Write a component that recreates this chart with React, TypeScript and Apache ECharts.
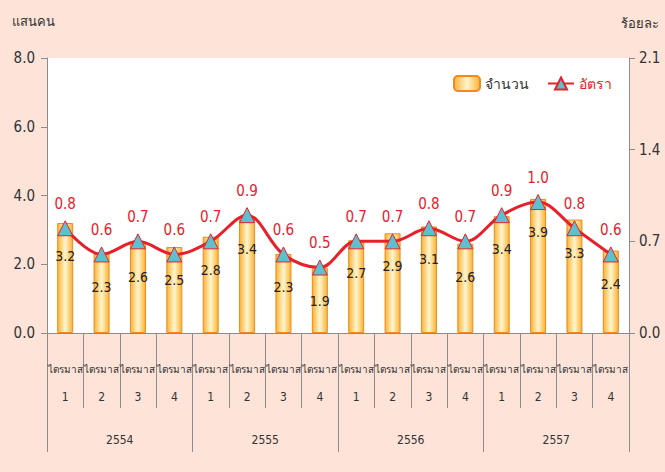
import React, { useEffect, useRef } from "react";
import * as echarts from "echarts";

const quarters = ["1", "2", "3", "4", "1", "2", "3", "4", "1", "2", "3", "4", "1", "2", "3", "4"];
const years = ["2554", "2555", "2556", "2557"];
const amount = [3.2, 2.3, 2.6, 2.5, 2.8, 3.4, 2.3, 1.9, 2.7, 2.9, 3.1, 2.6, 3.4, 3.9, 3.3, 2.4];
const rate = [0.8, 0.6, 0.7, 0.6, 0.7, 0.9, 0.6, 0.5, 0.7, 0.7, 0.8, 0.7, 0.9, 1.0, 0.8, 0.6];
const leftTicks = { min: 0, max: 8, interval: 2 };
const rightTicks = { min: 0, max: 2.1, interval: 0.7 };

const FONT = "'Liberation Sans Narrow', 'DejaVu Sans Condensed', 'Liberation Sans', sans-serif";
const RED = "#E8202A";
const AXIS = "#8c8c8c";
const TXT = "#333333";

export default function App() {
  const ref = useRef<HTMLDivElement>(null);
  useEffect(() => {
    if (!ref.current) return;
    const chart = echarts.init(ref.current, null, { renderer: "svg" });
    const barColor = new echarts.graphic.LinearGradient(0, 0, 1, 0, [
      { offset: 0, color: "#F9B233" },
      { offset: 0.5, color: "#FFF6CF" },
      { offset: 1, color: "#F9B233" },
    ]);
    chart.setOption({
      animation: false,
      backgroundColor: "#FDE3D8",
      textStyle: { fontFamily: FONT },
      grid: {
        left: 47,
        right: 36,
        top: 58,
        bottom: 139,
        show: true,
        backgroundColor: "#ffffff",
        borderWidth: 0,
      },
      legend: {
        left: 448,
        top: 70,
        itemWidth: 26,
        itemHeight: 15,
        itemGap: 18,
        textStyle: { fontSize: 14, fontFamily: FONT, color: TXT },
        data: [
          { name: "จำนวน", textStyle: { color: TXT } },
          { name: "อัตรา", textStyle: { color: RED } },
        ],
      },
      graphic: [
        { type: "text", left: 12, top: 15, style: { text: "แสนคน", fontSize: 13, fill: TXT, fontFamily: FONT } },
        { type: "text", right: 6, top: 17, style: { text: "ร้อยละ", fontSize: 13, fill: TXT, fontFamily: FONT } },
      ],
      xAxis: [
        {
          type: "category",
          data: quarters,
          gridIndex: 0,
          axisLine: { lineStyle: { color: AXIS, width: 1 } },
          axisTick: { show: true, length: 75, interval: 0, lineStyle: { color: AXIS } },
          axisLabel: {
            interval: 0,
            margin: 23,
            lineHeight: 27,
            fontSize: 10,
            color: TXT,
            formatter: (v: string) => "ไตรมาส\n{n|" + v + "}",
            rich: { n: { fontSize: 12, color: TXT } },
          },
        },
        {
          type: "category",
          data: years,
          gridIndex: 0,
          position: "bottom",
          axisLine: { show: false },
          axisTick: { show: true, length: 119, interval: 0, lineStyle: { color: AXIS } },
          axisLabel: { interval: 0, margin: 101, fontSize: 12, color: TXT },
        },
      ],
      yAxis: [
        {
          type: "value",
          ...leftTicks,
          position: "left",
          splitLine: { show: false },
          axisLine: { show: true, lineStyle: { color: AXIS } },
          axisTick: { show: true, length: 6, lineStyle: { color: AXIS } },
          axisLabel: { fontSize: 15, color: TXT, margin: 12, formatter: (v: number) => v.toFixed(1) },
        },
        {
          type: "value",
          ...rightTicks,
          position: "right",
          splitLine: { show: false },
          axisLine: { show: true, lineStyle: { color: AXIS } },
          axisTick: { show: true, length: 6, lineStyle: { color: AXIS } },
          axisLabel: { fontSize: 15, color: TXT, margin: 10, formatter: (v: number) => v.toFixed(1) },
        },
      ],
      series: [
        {
          name: "จำนวน",
          type: "bar",
          xAxisIndex: 0,
          yAxisIndex: 0,
          data: amount,
          barWidth: 16,
          itemStyle: { color: barColor, borderColor: "#F08A1C", borderWidth: 1 },
          label: {
            show: true,
            position: "insideTop",
            distance: 26,
            fontSize: 14,
            color: "#222",
            fontFamily: FONT,
            formatter: (p: any) => p.value.toFixed(1),
          },
          z: 2,
        },
        {
          name: "อัตรา",
          type: "line",
          xAxisIndex: 0,
          yAxisIndex: 1,
          data: rate,
          smooth: 0.35,
          symbol: "triangle",
          symbolSize: [15, 15],
          lineStyle: { color: RED, width: 3 },
          itemStyle: { color: "#5BC0D0", borderColor: RED, borderWidth: 1 },
          label: {
            show: true,
            position: "top",
            distance: 9,
            fontSize: 15,
            color: RED,
            fontFamily: FONT,
            formatter: (p: any) => p.value.toFixed(1),
          },
          z: 3,
        },
      ],
    });
    return () => chart.dispose();
  }, []);
  return <div ref={ref} style={{ position: "fixed", left: 0, top: 0, width: 665, height: 472 }} />;
}
